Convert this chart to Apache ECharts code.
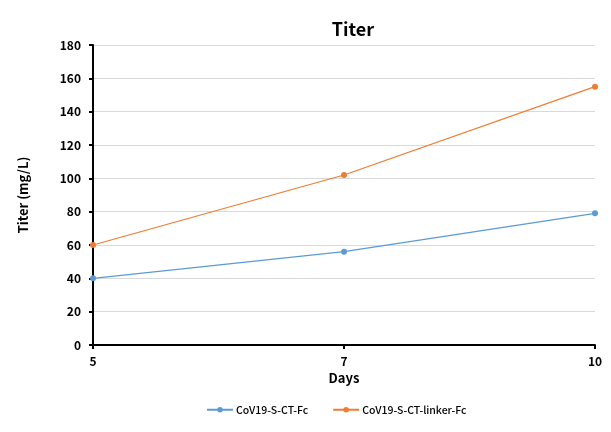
<!DOCTYPE html>
<html><head><meta charset="utf-8">
<script src="https://cdn.jsdelivr.net/npm/echarts@6/dist/echarts.min.js"></script>
<style>html,body{margin:0;padding:0;background:#fff}#c{width:611px;height:432px}</style>
</head><body><div id="c"></div>
<script>
var days = ['5', '7', '10'];
var seriesNames = ['CoV19-S-CT-Fc', 'CoV19-S-CT-linker-Fc'];
var fcValues = [40, 56, 79];
var linkerValues = [60, 102, 155];
var colors = ['#5b9bd5', '#ed7d31'];
var FONT = '"Noto Sans CJK KR", "Open Sans", sans-serif';
var chart = echarts.init(document.getElementById('c'), null, {renderer: 'canvas'});
chart.setOption({
  animation: false,
  title: {text: 'Titer', left: 348, top: 15, textAlign: 'center',
    textStyle: {fontFamily: FONT, fontSize: 18, fontWeight: 'bold', color: '#000'}},
  grid: {left: 93, right: 16, top: 45, bottom: 87, containLabel: false},
  legend: {bottom: 12, left: 201, itemWidth: 26, itemHeight: 7, itemGap: 24,
    textStyle: {fontFamily: FONT, fontSize: 10.5, fontWeight: 500, color: '#000', padding: [0, 0, 0, -2]},
    data: seriesNames},
  xAxis: {type: 'category', data: days, boundaryGap: false,
    name: 'Days', nameLocation: 'middle', nameGap: 24,
    nameTextStyle: {fontFamily: FONT, fontSize: 13, fontWeight: 'bold', color: '#000'},
    axisLine: {lineStyle: {color: '#000', width: 2}},
    axisTick: {show: true, inside: false, length: 4, lineStyle: {color: '#000', width: 2}},
    axisLabel: {fontFamily: FONT, fontSize: 12, fontWeight: 'bold', color: '#000', margin: 10},
    splitLine: {show: false}},
  yAxis: {type: 'value', min: 0, max: 180, interval: 20,
    name: 'Titer (mg/L)', nameLocation: 'middle', nameGap: 63, nameRotate: 90,
    nameTextStyle: {fontFamily: FONT, fontSize: 13, fontWeight: 'bold', color: '#000'},
    axisLine: {show: true, lineStyle: {color: '#000', width: 2}},
    axisTick: {show: true, inside: false, length: 4, lineStyle: {color: '#000', width: 2}},
    axisLabel: {fontFamily: FONT, fontSize: 12, fontWeight: 'bold', color: '#000', margin: 12},
    splitLine: {show: true, lineStyle: {color: '#d9d9d9', width: 1}}},
  series: [
    {name: seriesNames[0], type: 'line', data: fcValues, symbol: 'circle', symbolSize: 6,
     color: colors[0], lineStyle: {width: 1.2}, itemStyle: {color: colors[0]}},
    {name: seriesNames[1], type: 'line', data: linkerValues, symbol: 'circle', symbolSize: 6,
     color: colors[1], lineStyle: {width: 1.2}, itemStyle: {color: colors[1]}}
  ]
});
</script></body></html>
